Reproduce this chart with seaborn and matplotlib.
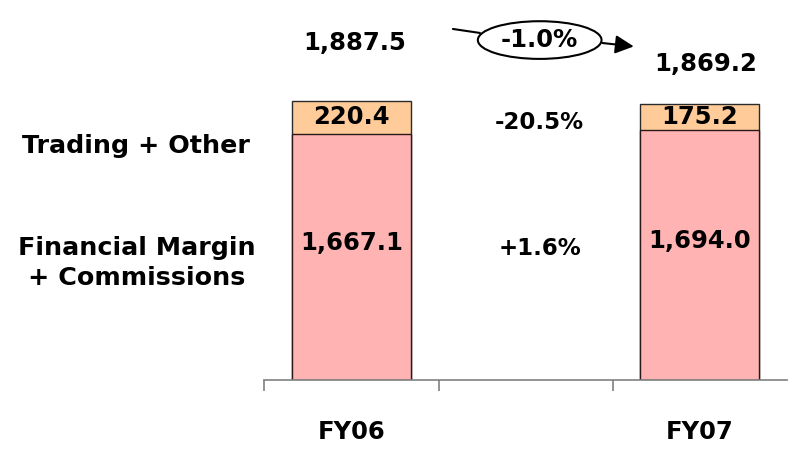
import matplotlib
matplotlib.use("Agg")
import matplotlib.pyplot as plt
from matplotlib.patches import Ellipse
from matplotlib.ticker import FixedLocator
import seaborn as sns
import pandas as pd

# Revenue breakdown (figures in millions)
years = ["FY06", "FY07"]
margin_commissions = [1667.1, 1694.0]
trading_other = [220.4, 175.2]
totals = [1887.5, 1869.2]
segment_labels = ["Trading + Other", "Financial Margin\n+ Commissions"]
segment_changes = ["-20.5%", "+1.6%"]
total_change = "-1.0%"

order = ["FY06", "", "FY07"]
df = pd.DataFrame({"year": years, "base": margin_commissions,
                   "top": trading_other, "total": totals})

sns.set_theme(style="white")
plt.rcParams["font.family"] = ["DejaVu Sans"]
plt.rcParams["font.weight"] = "bold"
plt.rcParams["text.color"] = "black"
plt.rcParams["xtick.color"] = "black"

fig = plt.figure(figsize=(8.01, 4.49), dpi=100)
ax = fig.add_axes([264.4 / 801, 69 / 449, (787.1 - 264.4) / 801, 380 / 449])

pink = "#FFB3B3"
orange = "#FFCC99"
bw = 0.683
sns.barplot(data=df, x="year", y="total", order=order, color=orange,
            width=bw, edgecolor="#2a2a2a", linewidth=1.0, saturation=1, ax=ax)
sns.barplot(data=df, x="year", y="base", order=order, color=pink,
            width=bw, edgecolor="#2a1818", linewidth=1.0, saturation=1, ax=ax)

ax.set_xlim(-0.5, 2.5)
ax.set_ylim(0, 2571)
ax.set_xlabel("")
ax.set_ylabel("")
ax.set_yticks([])
for s in ["left", "right", "top"]:
    ax.spines[s].set_visible(False)
ax.spines["bottom"].set_color("#808080")
ax.spines["bottom"].set_linewidth(1.2)

# category labels under the bars, boundary ticks on the axis
ax.set_xticks([0, 2])
ax.set_xticklabels(years, fontsize=17.5, fontweight="bold", color="black")
ax.tick_params(axis="x", which="major", length=0, pad=29)
ax.xaxis.set_minor_locator(FixedLocator([-0.5, 0.5, 1.5]))
ax.tick_params(axis="x", which="minor", length=8, width=1.2, color="#808080",
               bottom=True)

fs = 17.5
pos = [0, 2]
for i, x in enumerate(pos):
    ax.text(x, margin_commissions[i] + trading_other[i] / 2, f"{trading_other[i]:,.1f}",
            ha="center", va="center", fontsize=fs, fontweight="bold")
    ax.text(x, margin_commissions[i] * 0.555, f"{margin_commissions[i]:,.1f}",
            ha="center", va="center", fontsize=fs, fontweight="bold")

ax.text(0.02, totals[0] + 392, f"{totals[0]:,.1f}", ha="center", va="center",
        fontsize=fs, fontweight="bold")
ax.text(2.03, totals[1] + 269, f"{totals[1]:,.1f}", ha="center", va="center",
        fontsize=fs, fontweight="bold")

# change between years for each segment
ax.text(1.08, 1739, segment_changes[0], ha="center", va="center", fontsize=fs - 1,
        fontweight="bold")
ax.text(1.08, 893, segment_changes[1], ha="center", va="center", fontsize=fs - 1,
        fontweight="bold")

# segment names on the left
ax.text(-1.235, 1580, segment_labels[0], ha="center", va="center", fontsize=18.3,
        fontweight="bold", clip_on=False)
ax.text(-1.235, 793, segment_labels[1], ha="center", va="center", fontsize=18.3,
        fontweight="bold", linespacing=1.3, clip_on=False)

# total change callout
ax.add_patch(Ellipse((1.08, 2300), 0.71, 255, facecolor="white",
                     edgecolor="black", linewidth=1.5, clip_on=False))
ax.text(1.08, 2300, total_change, ha="center", va="center", fontsize=fs,
        fontweight="bold")
ax.plot([0.582, 0.737], [2375, 2348], color="black", lw=1.5, clip_on=False)
ax.annotate("", xy=(1.62, 2257), xytext=(1.44, 2280),
            arrowprops=dict(arrowstyle="-|>", color="black", lw=1.5,
                            mutation_scale=28, shrinkA=0, shrinkB=0),
            annotation_clip=False)

fig.savefig("out.png", dpi=100)
